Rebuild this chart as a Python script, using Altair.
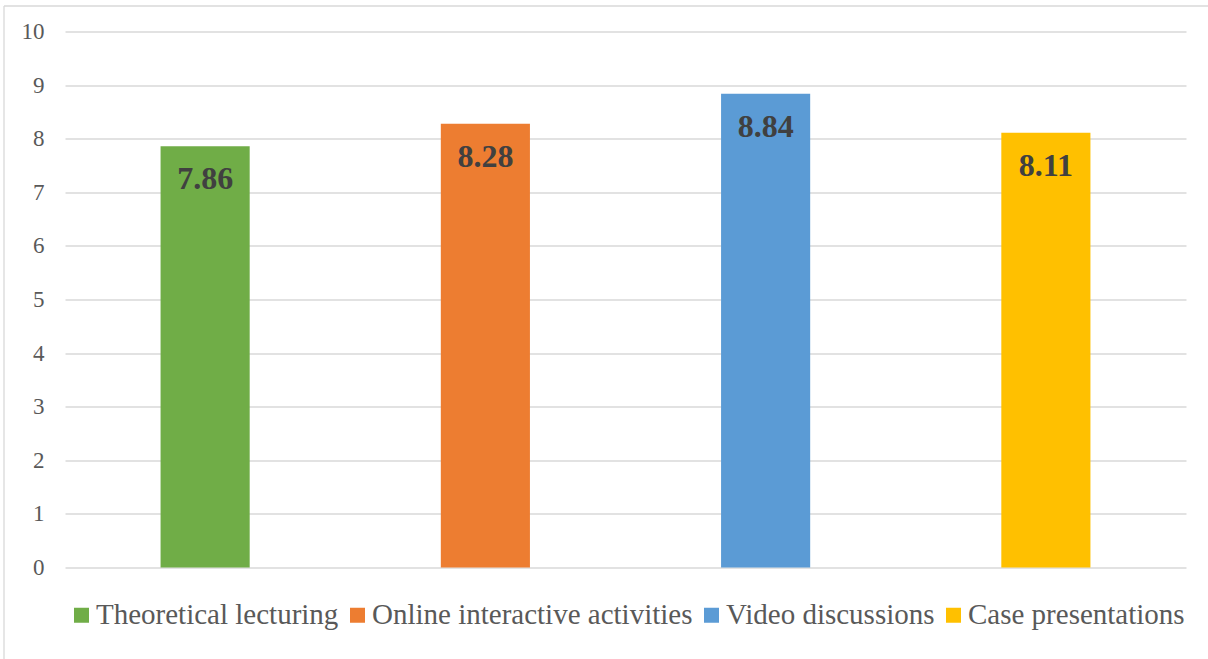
import altair as alt
import pandas as pd

categories = ["Theoretical lecturing", "Online interactive activities", "Video discussions", "Case presentations"]
values = [7.86, 8.28, 8.84, 8.11]
colors = ["#70AD47", "#ED7D31", "#5B9BD5", "#FFC000"]
y_ticks = [0, 1, 2, 3, 4, 5, 6, 7, 8, 9, 10]

df = pd.DataFrame({"method": categories, "score": values, "label": [f"{v:.2f}" for v in values]})

FONT = "Liberation Serif"
W, H = 1121, 536

x_enc = alt.X("method:N", sort=categories, axis=None,
              scale=alt.Scale(paddingInner=0.682, paddingOuter=0.341))
y_axis = alt.Axis(values=y_ticks, title=None, domain=False, ticks=False,
                  grid=True, gridColor="#d9d9d9", gridWidth=1.3,
                  labelFont=FONT, labelFontSize=23, labelColor="#595959",
                  labelPadding=21)
y_enc = alt.Y("score:Q", scale=alt.Scale(domain=[0, 10], nice=False), axis=y_axis)

bars = alt.Chart(df).mark_bar().encode(
    x=x_enc,
    y=y_enc,
    color=alt.Color("method:N", sort=categories,
                    scale=alt.Scale(domain=categories, range=colors),
                    legend=alt.Legend(title=None, orient="none", direction="horizontal",
                                      legendX=2, legendY=569, padding=0,
                                      symbolType="square", symbolSize=225,
                                      symbolStrokeWidth=0, labelFont=FONT,
                                      labelFontSize=29, labelColor="#595959",
                                      labelOffset=0, columnPadding=4,
                                      labelLimit=0)),
)

labels = alt.Chart(df).mark_text(font=FONT, fontSize=32, fontWeight="bold",
                                 color="#404040", baseline="alphabetic", dy=43).encode(
    x=x_enc,
    y=y_enc,
    text="label:N",
)

border_df = pd.DataFrame({"k": [0]})
left_border = alt.Chart(border_df).mark_rule(color="#d9d9d9", strokeWidth=1.3).encode(
    x=alt.value(-61), y=alt.value(-25.5), y2=alt.value(640))
top_border = alt.Chart(border_df).mark_rule(color="#d9d9d9", strokeWidth=1.3).encode(
    y=alt.value(-25.5), x=alt.value(-61), x2=alt.value(1150))

chart = alt.layer(bars, labels, left_border, top_border).properties(
    width=W, height=H,
    autosize=alt.AutoSizeParams(type="none"),
    padding={"left": 65, "top": 31.5, "right": 22, "bottom": 91.5},
).configure(background="white").configure_view(stroke=None).configure_axis(labelFont=FONT)

chart.save("out.html", embed_options={"renderer": "svg", "actions": False})
